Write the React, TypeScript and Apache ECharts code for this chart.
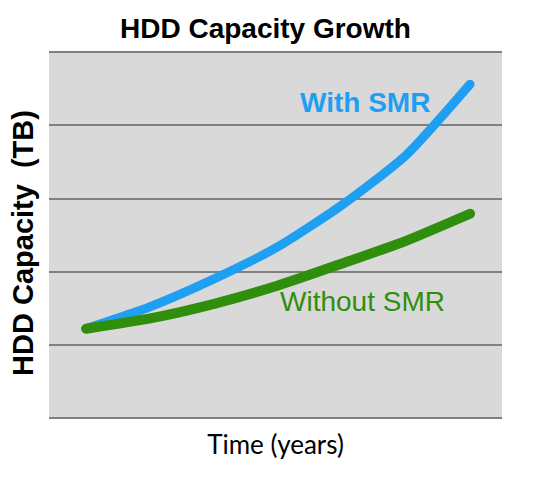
import React, { useEffect, useRef } from "react";
import * as echarts from "echarts";

// time steps (years, arbitrary units)
const timePoints = [0, 1, 2, 3, 4, 5, 6];
// capacity values (gridline units)
const withSmr = [1.22, 1.52, 1.9, 2.34, 2.91, 3.59, 4.56];
const withoutSmr = [1.22, 1.36, 1.56, 1.81, 2.11, 2.42, 2.79];

const BLUE = "#1f9ff2";
const GREEN = "#2f8f0c";

const App = () => {
  const chartRef = useRef<HTMLDivElement>(null);

  useEffect(() => {
    const chart = echarts.init(chartRef.current, null, { renderer: "svg" });

    const options = {
      animation: false,
      backgroundColor: "#ffffff",
      title: {
        text: "HDD Capacity Growth",
        left: 115,
        top: 9,
        textStyle: {
          fontFamily: "Liberation Sans, Arial, sans-serif",
          fontSize: 28,
          fontWeight: "bold",
          color: "#000",
        },
      },
      grid: {
        left: 49,
        right: 38,
        top: 52,
        bottom: 59,
        show: true,
        backgroundColor: "#d9d9d9",
        borderWidth: 0,
      },
      xAxis: {
        type: "value",
        min: -0.58,
        max: 6.5,
        name: "Time (years)",
        nameLocation: "middle",
        nameGap: 13,
        nameTextStyle: {
          fontFamily: "Lato, sans-serif",
          fontSize: 26,
          color: "#000",
          verticalAlign: "top",
        },
        axisLine: { show: false },
        axisTick: { show: false },
        axisLabel: { show: false },
        splitLine: { show: false },
      },
      yAxis: {
        type: "value",
        min: 0,
        max: 5,
        interval: 1,
        name: "HDD Capacity  (TB)",
        nameLocation: "middle",
        nameGap: 12,
        nameTextStyle: {
          fontFamily: "Liberation Sans, Arial, sans-serif",
          fontSize: 29,
          fontWeight: "bold",
          color: "#000",
          padding: [0, 16, 0, 0],
        },
        axisLine: { show: false },
        axisTick: { show: false },
        axisLabel: { show: false },
        splitLine: { show: true, lineStyle: { color: "#808080", width: 2 } },
      },
      series: [
        {
          name: "With SMR",
          type: "line",
          data: timePoints.map((t, i) => [t, withSmr[i]]),
          showSymbol: false,
          smooth: 0.2,
          lineStyle: { color: BLUE, width: 9, cap: "round", join: "round" },
        },
        {
          name: "Without SMR",
          type: "line",
          data: timePoints.map((t, i) => [t, withoutSmr[i]]),
          showSymbol: false,
          smooth: 0.2,
          lineStyle: { color: GREEN, width: 10, cap: "round", join: "round" },
        },
      ],
      graphic: [
        {
          type: "text",
          left: 300,
          top: 88,
          style: {
            text: "With SMR",
            fill: BLUE,
            font: "bold 28px 'Liberation Sans', Arial, sans-serif",
          },
        },
        {
          type: "text",
          left: 280,
          top: 287,
          style: {
            text: "Without SMR",
            fill: GREEN,
            font: "28px 'Liberation Sans', Arial, sans-serif",
          },
        },
      ],
    };

    chart.setOption(options);
    return () => chart.dispose();
  }, []);

  return (
    <div style={{ position: "fixed", left: 0, top: 0 }}>
      <div ref={chartRef} style={{ width: 540, height: 477 }} />
    </div>
  );
};

export default App;
